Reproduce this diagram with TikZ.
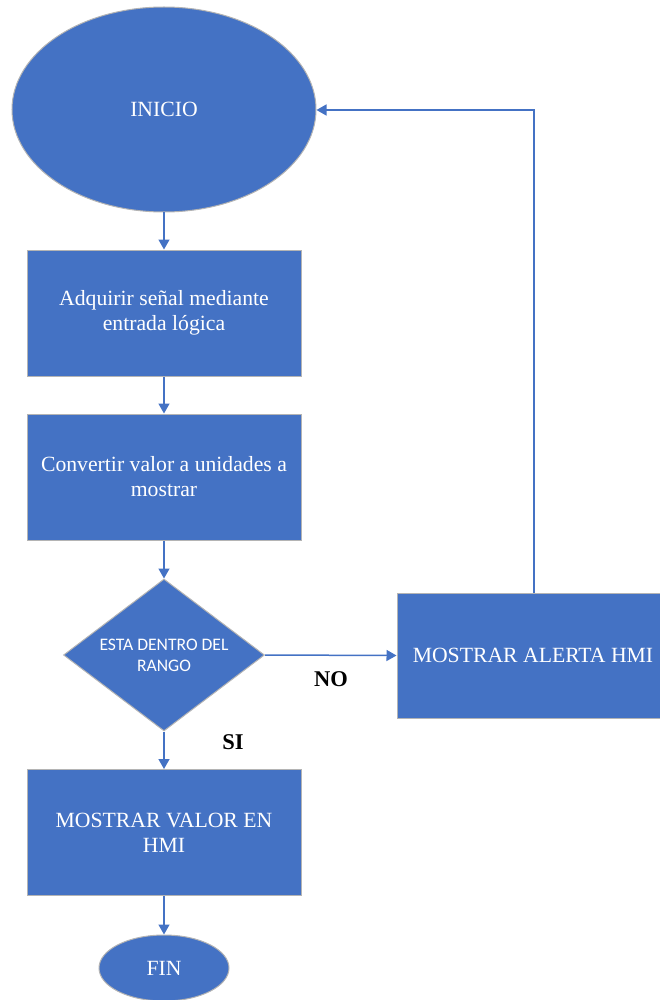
\documentclass[tikz,border=0pt]{standalone}
\usepackage{fontspec}
\setmainfont{Liberation Serif}
\newfontfamily\calib{Carlito}
\usetikzlibrary{shapes.geometric,arrows.meta}
\definecolor{blu}{HTML}{4472C4}
\definecolor{edge}{HTML}{B4B4B4}
\tikzset{
  shp/.style={fill=blu,draw=edge,line width=1pt,text=white,font=\fontsize{21.7}{25}\selectfont,align=center,inner sep=0pt},
  boxn/.style={shp,rectangle,minimum width=274pt,minimum height=126pt},
  ovl/.style={shp,ellipse},
  dia/.style={shp,diamond,minimum width=201pt,minimum height=152pt,inner sep=-20pt,font=\calib\fontsize{17.6}{21}\selectfont},
  conn/.style={draw=blu,line width=1.5pt,-{Triangle[length=10pt,width=11pt]}},
  lbl/.style={font=\bfseries\fontsize{22.5}{26}\selectfont,inner sep=0pt}
}
\begin{document}
\begin{tikzpicture}[x=1pt,y=-1pt]
\useasboundingbox (0,0) rectangle (660,1000);
\clip (0,0) rectangle (660,1000);
\node[ovl,minimum width=304pt,minimum height=205pt] (ini) at (164,109.5) {INICIO};
\node[boxn] (b1) at (164,313) {Adquirir señal mediante\\entrada lógica};
\node[boxn] (b2) at (164,477) {Convertir valor a unidades a\\mostrar};
\node[dia] (d) at (164,655) {ESTA DENTRO DEL\\RANGO};
\node[boxn,minimum width=272pt,minimum height=125pt] (b3) at (533,655.5) {MOSTRAR ALERTA HMI};
\node[boxn] (b4) at (164,832.5) {MOSTRAR VALOR EN\\HMI};
\node[ovl,minimum width=130pt,minimum height=66pt] (fin) at (164,968) {FIN};
\coordinate (c1) at (534,110);
\draw[conn] (ini.south) -- (b1.north);
\draw[conn] (b1.south) -- (b2.north);
\draw[conn] (b2.south) -- (d.north);
\draw[conn] (d.east) -- (b3.west);
\draw[conn] (d.south) -- (b4.north);
\draw[conn] (b4.south) -- (fin.north);
\draw[conn] (b3.north -| c1) -- (c1) -- (ini.east |- c1);
\node[lbl] (no) at (331,679) {NO};
\node[lbl] (si) at (233,742) {SI};
\end{tikzpicture}
\end{document}
